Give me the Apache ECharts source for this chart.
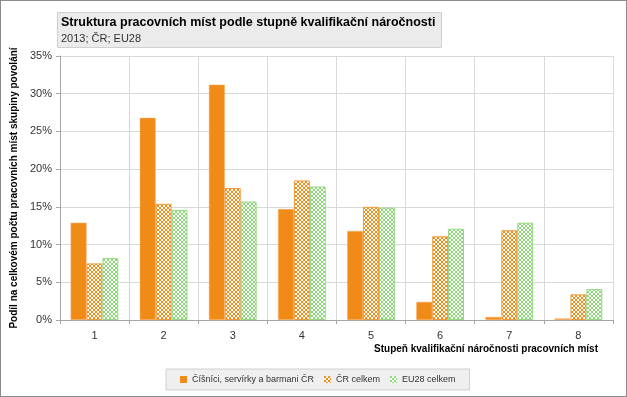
<!DOCTYPE html>
<html>
<head>
<meta charset="utf-8">
<script src="https://cdn.jsdelivr.net/npm/echarts@6/dist/echarts.min.js"></script>
<style>
  html, body { margin: 0; padding: 0; background: #fff; }
  #chart { width: 625px; height: 395px; border: 1px solid #8c8c8c; }
</style>
</head>
<body>
<div id="chart"></div>
<script>
// data (percent)
const categories = ['1', '2', '3', '4', '5', '6', '7', '8']
const waiters = [12.9, 26.8, 31.2, 14.7, 11.8, 2.4, 0.4, 0.2]
const czTotal = [7.5, 15.4, 17.5, 18.5, 15.0, 11.1, 11.9, 3.4]
const eu28Total = [8.2, 14.6, 15.7, 17.7, 14.9, 12.1, 12.9, 4.1]
const seriesNames = ['Číšníci, servírky a barmani ČR', 'ČR celkem', 'EU28 celkem']

// checkered fill like the original
function checker(color) {
  const c = document.createElement('canvas')
  c.width = 4
  c.height = 4
  const ctx = c.getContext('2d')
  ctx.fillStyle = '#fff'
  ctx.fillRect(0, 0, 4, 4)
  ctx.fillStyle = color
  ctx.fillRect(0, 0, 2, 2)
  ctx.fillRect(2, 2, 2, 2)
  return { image: c, repeat: 'repeat' }
}

const font = 'Liberation Sans'
const chart = echarts.init(document.getElementById('chart'))

chart.setOption({
  animation: false,
  textStyle: { fontFamily: font },
  title: {
    text: 'Struktura pracovních míst podle stupně kvalifikační náročnosti',
    subtext: '2013; ČR; EU28',
    left: 56,
    top: 11,
    padding: [4, 6, 4, 4],
    itemGap: 4,
    backgroundColor: '#ebebeb',
    borderColor: '#d0d0d0',
    borderWidth: 1,
    textStyle: { fontFamily: font, fontSize: 12.5, fontWeight: 'bold', color: '#000' },
    subtextStyle: { fontFamily: font, fontSize: 11, color: '#333' }
  },
  legend: {
    data: seriesNames,
    left: 165,
    top: 368,
    icon: 'rect',
    padding: [6, 14, 6, 14],
    itemGap: 10,
    itemWidth: 7,
    itemHeight: 7,
    backgroundColor: '#efefef',
    borderColor: '#d0d0d0',
    borderWidth: 1,
    itemStyle: { borderWidth: 0 },
    textStyle: { fontFamily: font, fontSize: 9, color: '#333' }
  },
  grid: { left: 57, right: 13, top: 55, bottom: 76 },
  xAxis: {
    type: 'category',
    data: categories,
    name: 'Stupeň kvalifikační náročnosti pracovních míst',
    nameLocation: 'end',
    nameGap: -15,
    nameTextStyle: {
      fontFamily: font, fontSize: 10, fontWeight: 'bold', color: '#000',
      align: 'right', verticalAlign: 'top', padding: [24, 0, 0, 0]
    },
    axisLine: { lineStyle: { color: '#a6a6a6' } },
    axisTick: { show: true, length: 4, lineStyle: { color: '#a6a6a6' } },
    axisLabel: { fontSize: 11, color: '#333', margin: 10 },
    splitLine: { show: true, lineStyle: { color: '#d9d9d9' } }
  },
  yAxis: {
    type: 'value',
    min: 0,
    max: 35,
    interval: 5,
    name: 'Podíl na celkovém počtu pracovních míst skupiny povolání',
    nameLocation: 'middle',
    nameGap: 36,
    nameTextStyle: { fontFamily: font, fontSize: 10, fontWeight: 'bold', color: '#000' },
    axisLine: { show: true, lineStyle: { color: '#a6a6a6' } },
    axisTick: { show: true, length: 4, lineStyle: { color: '#a6a6a6' } },
    axisLabel: { formatter: '{value}%', fontSize: 11, color: '#333', margin: 8 },
    splitLine: { lineStyle: { color: '#d9d9d9' } }
  },
  series: [
    {
      name: seriesNames[0],
      type: 'bar',
      data: waiters,
      barGap: '0%',
      barCategoryGap: '31%',
      itemStyle: { color: '#f18b17', borderColor: '#f6b06a', borderWidth: 0.5 }
    },
    {
      name: seriesNames[1],
      type: 'bar',
      data: czTotal,
      itemStyle: { color: checker('#f18b17'), borderColor: '#f39a3c', borderWidth: 1 }
    },
    {
      name: seriesNames[2],
      type: 'bar',
      data: eu28Total,
      itemStyle: { color: checker('#8ed67a'), borderColor: '#92d980', borderWidth: 1 }
    }
  ]
})
</script>
</body>
</html>
